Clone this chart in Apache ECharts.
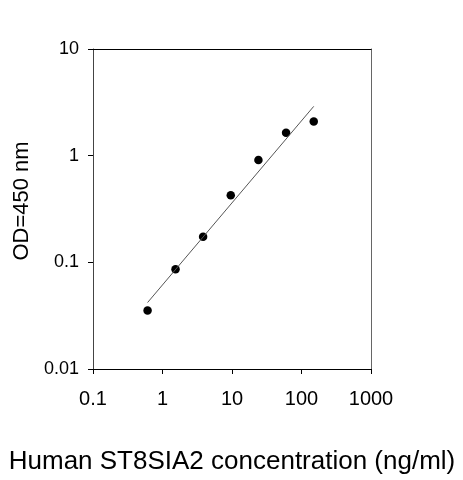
<!DOCTYPE html>
<html>
<head>
<meta charset="utf-8">
<script src="https://cdn.jsdelivr.net/npm/echarts@6/dist/echarts.min.js"></script>
<style>
  html, body { margin: 0; padding: 0; background: #fff; }
  #chart { width: 463px; height: 480px; }
</style>
</head>
<body>
<div id="chart"></div>
<script>
// concentration (ng/ml) and OD readings
const concentration = [0.61, 1.54, 3.84, 9.6, 24, 60, 150];
const od450 = [0.0354, 0.086, 0.174, 0.426, 0.91, 1.64, 2.09];
// fitted curve endpoints
const fitX = [0.61, 150];
const fitY = [0.042, 2.9];

const font = "'Liberation Sans', Arial, sans-serif";

const chart = echarts.init(document.getElementById("chart"));

const points = concentration.map((c, i) => [c, od450[i]]);
const fit = fitX.map((x, i) => [x, fitY[i]]);

chart.setOption({
  animation: false,
  grid: { left: 93, right: 92, top: 49, bottom: 107 },
  xAxis: [
    {
      type: "log",
      logBase: 10,
      min: 0.1,
      max: 1000,
      name: "Human ST8SIA2 concentration (ng/ml)",
      nameLocation: "middle",
      nameGap: 80,
      nameTextStyle: { fontFamily: font, fontSize: 26, color: "#000" },
      axisLine: { lineStyle: { color: "#000", width: 1.2 } },
      axisTick: { show: true, length: 5, inside: false, lineStyle: { color: "#000" } },
      minorTick: { show: false },
      splitLine: { show: false },
      axisLabel: {
        fontFamily: font,
        fontSize: 20,
        color: "#000",
        margin: 20,
        formatter: (v) => String(v),
      },
    },
    {
      type: "log",
      position: "top",
      min: 0.1,
      max: 1000,
      axisLine: { show: true, lineStyle: { color: "#000", width: 1.2 } },
      axisTick: { show: false },
      axisLabel: { show: false },
      splitLine: { show: false },
    },
  ],
  yAxis: [
    {
      type: "log",
      logBase: 10,
      min: 0.01,
      max: 10,
      name: "OD=450 nm",
      nameLocation: "middle",
      nameGap: 60,
      nameTextStyle: { fontFamily: font, fontSize: 22, color: "#000", padding: [0, 0, 0, 16] },
      axisLine: { show: true, lineStyle: { color: "#444", width: 1 } },
      axisTick: { show: true, length: 5, lineStyle: { color: "#000" } },
      minorTick: { show: false },
      splitLine: { show: false },
      axisLabel: {
        fontFamily: font,
        fontSize: 18,
        color: "#000",
        margin: 14,
        formatter: (v) => String(v),
      },
    },
    {
      type: "log",
      position: "right",
      min: 0.01,
      max: 10,
      axisLine: { show: true, lineStyle: { color: "#666", width: 1 } },
      axisTick: { show: false },
      axisLabel: { show: false },
      splitLine: { show: false },
    },
  ],
  series: [
    {
      type: "line",
      data: fit,
      showSymbol: false,
      lineStyle: { color: "#555", width: 1 },
      silent: true,
    },
    {
      type: "scatter",
      data: points,
      symbol: "circle",
      symbolSize: 8.5,
      itemStyle: { color: "#000", opacity: 1 },
    },
  ],
});
</script>
</body>
</html>
